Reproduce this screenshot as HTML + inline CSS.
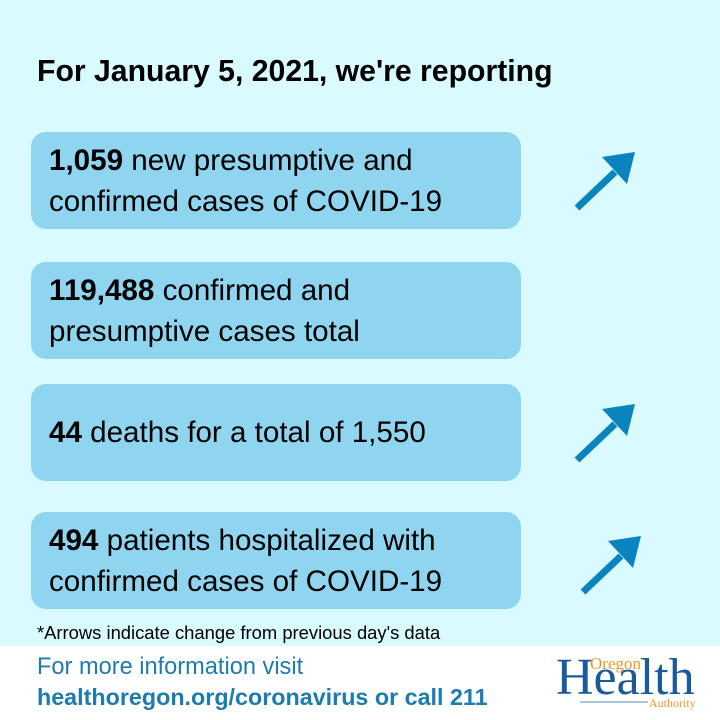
<!DOCTYPE html>
<html><head><style>
body{margin:0;width:720px;height:720px;background:#fff;font-family:"Liberation Sans","DejaVu Sans",sans-serif;position:relative;overflow:hidden}
.bg{position:absolute;left:0;top:0;width:720px;height:646px;background:#d9fafe}
.t{position:absolute;left:37px;top:55px;font-size:30.2px;font-weight:bold;color:#000}
.box{position:absolute;left:31px;width:490px;height:97px;background:#8fd5f0;border-radius:15px}
.tx{position:absolute;left:49px;font-size:29.6px;line-height:41px;color:#000}
.tx b{font-weight:bold}
.note{position:absolute;left:37px;top:622px;font-size:18.4px;color:#000}
.f1{position:absolute;left:37px;top:654px;font-size:23.6px;color:#1d7bb0}
.f2{position:absolute;left:37px;top:684px;font-size:23.3px;font-weight:bold;color:#1d7bb0}
svg{position:absolute;left:0;top:0}
</style></head><body>
<div class="bg"></div>
<div class="t">For January 5, 2021, we're reporting</div>
<div class="box" style="top:132px"></div>
<div class="box" style="top:262px"></div>
<div class="box" style="top:384px"></div>
<div class="box" style="top:512px"></div>
<div class="tx" style="top:140px"><b>1,059</b> new presumptive and<br>confirmed cases of COVID-19</div>
<div class="tx" style="top:270px"><b>119,488</b> confirmed and<br>presumptive cases total</div>
<div class="tx" style="top:412px"><b>44</b> deaths for a total of 1,550</div>
<div class="tx" style="top:520px"><b>494</b> patients hospitalized with<br>confirmed cases of COVID-19</div>
<div class="note">*Arrows indicate change from previous day's data</div>
<div class="f1">For more information visit</div>
<div class="f2">healthoregon.org/coronavirus or call 211</div>
<svg width="720" height="720">
<g fill="#0a84bf" stroke="#0a84bf">
<line x1="577" y1="208" x2="615" y2="172" stroke-width="7"/>
<polygon points="635,152 602,157 627,184" stroke="none"/>
<line x1="577" y1="460" x2="615" y2="424" stroke-width="7"/>
<polygon points="635,404 602,409 627,436" stroke="none"/>
<line x1="583" y1="592" x2="621" y2="556" stroke-width="7"/>
<polygon points="641,536 608,541 633,568" stroke="none"/>
</g>
<text x="556" y="694" font-family="Liberation Serif,serif" font-size="52" fill="#1a5a9a">Health</text>
<text x="590" y="669" font-family="Liberation Serif,serif" font-size="17" fill="#f0962a">Oregon</text>
<line x1="580" y1="702" x2="648" y2="702" stroke="#8ab0d8" stroke-width="1.5"/>
<text x="649" y="707" font-family="Liberation Serif,serif" font-size="12" fill="#f0962a">Authority</text>
</svg>
</body></html>
